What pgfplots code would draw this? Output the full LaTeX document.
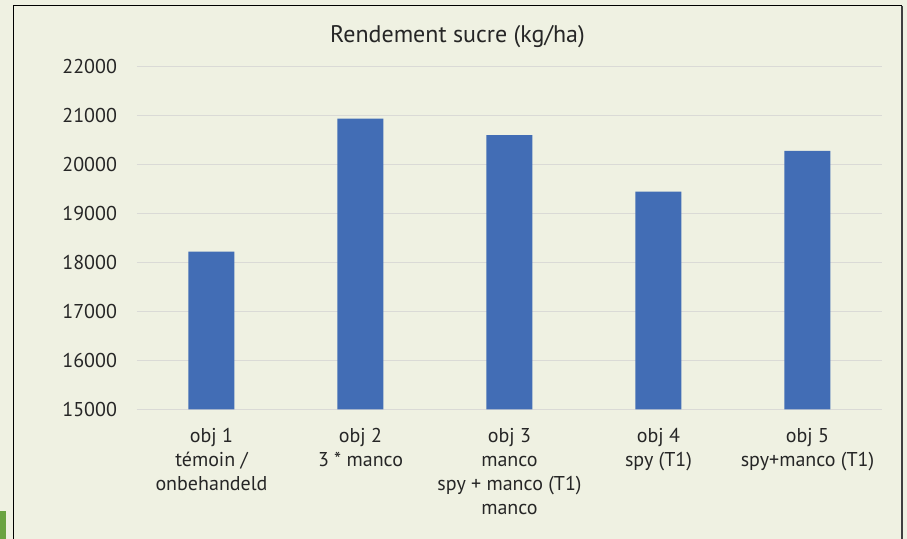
\documentclass[border=0pt]{standalone}
\usepackage{pgfplots}
\pgfplotsset{compat=1.18}
\usepackage{fontspec}
\setmainfont{PT Sans}
\definecolor{bg}{HTML}{EFF1E2}
\definecolor{barblue}{HTML}{426DB5}
\definecolor{gridc}{HTML}{DADAD6}
\definecolor{txt}{HTML}{262626}
\definecolor{grn}{HTML}{6AA341}
\begin{document}
\begin{tikzpicture}
\fill[bg] (0,0) rectangle (453.5pt,269.5pt);
\path[use as bounding box] (0,0) rectangle (453.5pt,269.5pt);
\fill[grn] (0,0) rectangle (3pt,14pt);
\draw[black, line width=0.6pt] (6.75pt,0) -- (6.75pt,266.6pt) -- (451pt,266.6pt);
\draw[black!75, line width=0.9pt] (451pt,266.6pt) -- (451pt,0);
\begin{axis}[
  at={(68.5pt,64.85pt)}, anchor=south west,
  scale only axis, width=372.5pt, height=171.3pt,
  ymin=15000, ymax=22000, ytick={15000,16000,...,22000},
  scaled y ticks=false,
  /pgf/number format/1000 sep={},
  /pgf/number format/assume math mode=true,
  xmin=-0.5, xmax=4.5, xtick={0,1,2,3,4},
  xticklabels={{obj 1\\témoin /\\onbehandeld},{obj 2\\3 * manco},{obj 3\\manco\\spy + manco (T1)\\manco},{obj 4\\spy (T1)},{obj 5\\spy+manco (T1)}},
  x tick label style={align=center, font=\fontsize{10}{12}\selectfont, text=txt, yshift=-6pt},
  y tick label style={font=\fontsize{10}{12}\selectfont, text=txt, xshift=-6.5pt},
  ymajorgrids, major grid style={gridc, line width=0.75pt},
  axis line style={draw=none}, major tick length=0pt,
  ybar, bar width=23pt,
]
\addplot[fill=barblue, draw=none] coordinates {(0,18220) (1,20940) (2,20600) (3,19450) (4,20280)};
\end{axis}
\node[text=txt, font=\fontsize{12}{14}\selectfont] at (228.75pt,251pt) {Rendement sucre (kg/ha)};
\end{tikzpicture}
\end{document}
